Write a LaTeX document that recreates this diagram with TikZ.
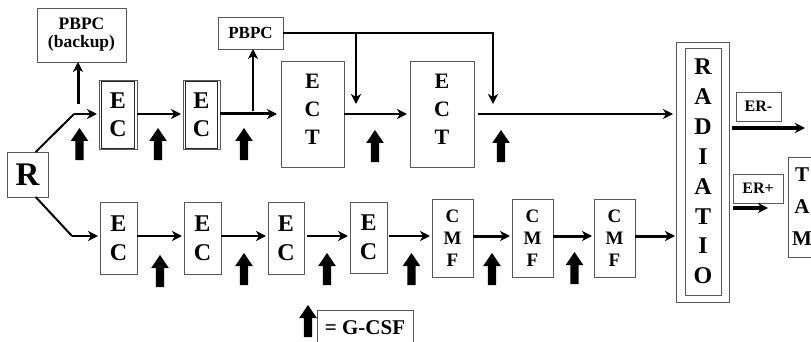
\documentclass[tikz,border=0pt]{standalone}
\usepackage{fontspec}
\setmainfont{Liberation Serif}
\usetikzlibrary{arrows.meta}

\newcommand{\fs}[2]{\fontsize{#1}{#2}\selectfont\bfseries}

\tikzset{
  box/.style={draw=black!65, line width=0.8pt, inner sep=0pt, outer sep=0pt,
              align=center, text=black},
  frame/.style={box, path picture={
      \draw[black!85, line width=0.7pt]
        ([xshift=2.2pt,yshift=-1.2pt]path picture bounding box.north west) rectangle
        ([xshift=-2.2pt,yshift=1.2pt]path picture bounding box.south east);}},
  link/.style={line width=2pt, -{Stealth[length=10pt,width=10pt,inset=3pt]},
               shorten >=2pt},
  heavylink/.style={link, line width=3pt},
  gcsf/.pic={\fill[black] (-4.2,0) -- (-4.2,-19) -- (-8.8,-19) -- (0,-32)
                -- (8.8,-19) -- (4.2,-19) -- (4.2,0) -- cycle;}
}

\begin{document}
\begin{tikzpicture}[x=1pt,y=-1pt]
\useasboundingbox (0,0) rectangle (811,342);
\clip (0,0) rectangle (811,342);

% source
\node[box, minimum width=41pt, minimum height=45pt, font=\fs{33}{33}] (R) at (27.5,174.5) {R};

% upper branch
\node[box, minimum width=89pt, minimum height=54pt, font=\fs{17.5}{18}] (pbpcb) at (81.5,35) {PBPC\\(backup)};
\node[frame, minimum width=38pt, minimum height=69pt, font=\fs{24}{28}] (ec1t) at (118,115) {E\\C};
\node[frame, minimum width=37pt, minimum height=69pt, font=\fs{24}{28}] (ec2t) at (201.5,115) {E\\C};
\node[box, minimum width=65pt, minimum height=32pt, font=\fs{17}{18}] (pbpc) at (250.5,33) {PBPC};
\node[box, minimum width=63pt, minimum height=106pt, font=\fs{22}{28}] (ect1) at (312.5,114) {E\\C\\T\\[-18pt]};
\node[box, minimum width=64pt, minimum height=106pt, font=\fs{22}{28}] (ect2) at (442,114) {E\\C\\T\\[-18pt]};

% radiation
\node[box, minimum width=53pt, minimum height=260pt] (rad) at (702.5,172) {};
\node[box, minimum width=36pt, minimum height=247pt, font=\fs{24}{29.9}] (radin) at (703,171.5) {R\\A\\D\\I\\A\\T\\I\\O};
\node[box, minimum width=45pt, minimum height=29pt, font=\fs{16}{16}] (erm) at (758.5,106.5) {ER-};
\node[box, minimum width=50pt, minimum height=29pt, font=\fs{16}{16}] (erp) at (758,188.5) {ER+};
\node[box, minimum width=28pt, minimum height=100pt, font=\fs{21}{32}] (tam) at (802,207) {T\\A\\M};

% lower branch
\node[box, minimum width=37pt, minimum height=72pt, font=\fs{24}{29}] (ec1b) at (118.5,238) {E\\C};
\node[box, minimum width=37pt, minimum height=72pt, font=\fs{24}{29}] (ec2b) at (202.5,238) {E\\C};
\node[box, minimum width=36pt, minimum height=72pt, font=\fs{24}{29}] (ec3b) at (286,238) {E\\C};
\node[box, minimum width=37pt, minimum height=71pt, font=\fs{24}{29}] (ec4b) at (368.5,237.5) {E\\C};
\node[box, minimum width=41pt, minimum height=78pt, font=\fs{19}{22}] (cmf1) at (452.5,238) {C\\M\\F};
\node[box, minimum width=41pt, minimum height=78pt, font=\fs{19}{22}] (cmf2) at (532.5,238) {C\\M\\F};
\node[box, minimum width=41pt, minimum height=78pt, font=\fs{19}{22}] (cmf3) at (614.5,238) {C\\M\\F};

% legend
\node[box, minimum width=96pt, minimum height=36pt, font=\fs{21}{21}] (legend) at (365,328) {= G-CSF};

% junction points
\coordinate (jt) at (74,114);
\coordinate (jtu) at (78,104);
\coordinate (jp) at (253,111);
\coordinate (k1) at (356,104);
\coordinate (k2) at (493,104);
\coordinate (ermend) at (805,128);
\coordinate (erpstart) at (733,208);
\coordinate (erpend) at (768,208);
\coordinate (jb) at (72,236);

% upper connectors
\draw[line width=2pt] (R.70) -- (jt);
\draw[link] (jt) -- (ec1t.west |- jt);
\draw[heavylink, shorten >=0pt] (jtu) -- (pbpcb.south -| jtu);
\draw[link] (ec1t.east |- jt) -- (ec2t.west |- jt);
\draw[heavylink, shorten >=4pt] (ec2t.east |- jt) -- (ect1.west |- jt);
\draw[link, shorten >=0pt] (jp) -- (pbpc.south -| jp);
\draw[link, line width=2.6pt, shorten >=0pt] (pbpc.east) -| (k2);
\draw[link, line width=2.6pt, shorten >=0pt] (pbpc.east -| k1) -- (k1);
\draw[link, line width=2.4pt, shorten >=3pt] (ect1.east) -- (ect2.west);
\draw[link, line width=2.6pt, shorten <=4pt, shorten >=3pt] (ect2.east) -- (rad.west |- ect2.east);
\draw[link, line width=4pt, shorten <=3pt, shorten >=0pt] (rad.east |- ermend) -- (ermend);
\draw[link, line width=4pt, shorten >=0pt] (erpstart) -- (erpend);

% lower connectors
\draw[line width=2pt] (R.-70) -- (jb);
\draw[link] (jb) -- (ec1b.west |- jb);
\draw[link] (ec1b.east |- jb) -- (ec2b.west |- jb);
\draw[link] (ec2b.east |- jb) -- (ec3b.west |- jb);
\draw[link, shorten <=3pt] (ec3b.east |- jb) -- (ec4b.west |- jb);
\draw[link, shorten <=2pt] (ec4b.east |- jb) -- (cmf1.west |- jb);
\draw[heavylink] (cmf1.east |- jb) -- (cmf2.west |- jb);
\draw[heavylink] (cmf2.east |- jb) -- (cmf3.west |- jb);
\draw[heavylink, shorten >=1pt] (cmf3.east |- jb) -- (rad.west |- jb);

% G-CSF doses
\foreach \p in {(79.5,160),(158,160),(244,160),(375,162),(501,162),
                (160,287),(244,285),(327,285),(411.5,285),(492,285),(574.5,284),
                (308,337)}
  \pic at \p {gcsf};
\end{tikzpicture}
\end{document}
